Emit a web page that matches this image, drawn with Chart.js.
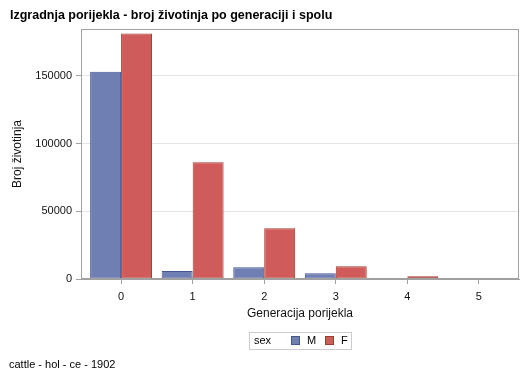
<!DOCTYPE html>
<html>
<head>
<meta charset="utf-8">
<script src="https://cdn.jsdelivr.net/npm/chart.js@4.4.0/dist/chart.umd.min.js"></script>
<style>
  html, body { margin: 0; padding: 0; background: #fff; }
  #wrap { width: 529px; height: 378px; position: relative; }
</style>
</head>
<body>
<div id="wrap"><canvas id="chart"></canvas></div>
<script>
// chart data
const titleText = 'Izgradnja porijekla - broj životinja po generaciji i spolu';
const footnoteText = 'cattle - hol - ce - 1902';
const legendTitle = 'sex';
const generations = [0, 1, 2, 3, 4, 5];
const seriesNames = ['M', 'F'];
const maleCounts = [153000, 5900, 8600, 4200, 800, 0];
const femaleCounts = [181300, 86200, 37400, 9400, 2000, 0];
const yTickValues = [0, 50000, 100000, 150000];

const FONT = '"Liberation Sans", Arial, sans-serif';
const AXIS_GRAY = '#a0a0a0';

// title, footnote, frame and the boxed legend at the bottom
const decorPlugin = {
    id: 'decor',
    afterDraw(chart) {
        const { ctx, chartArea } = chart;
        ctx.save();

        ctx.strokeStyle = AXIS_GRAY;
        ctx.lineWidth = 1;
        ctx.strokeRect(chartArea.left + 0.5, chartArea.top + 0.5,
            chartArea.right - chartArea.left - 1, chartArea.bottom - chartArea.top - 1);

        ctx.fillStyle = '#000';
        ctx.textBaseline = 'alphabetic';
        ctx.textAlign = 'left';
        ctx.font = 'bold 12.5px ' + FONT;
        ctx.fillText(titleText, 10, 19);

        ctx.font = '11px ' + FONT;
        ctx.fillText(footnoteText, 9, 368);

        // legend
        ctx.strokeStyle = '#cccccc';
        ctx.strokeRect(249.5, 332.5, 102, 17);
        ctx.textBaseline = 'middle';
        ctx.font = '11px ' + FONT;
        ctx.fillStyle = '#000';
        ctx.fillText(legendTitle, 254, 341);

        let x = 291;
        chart.data.datasets.forEach(ds => {
            ctx.fillStyle = ds.backgroundColor;
            ctx.fillRect(x, 336, 9, 9);
            ctx.strokeStyle = ds.borderColor;
            ctx.strokeRect(x + 0.5, 336.5, 8, 8);
            ctx.fillStyle = '#000';
            ctx.fillText(ds.label, x + 16, 341);
            x += 34;
        });

        ctx.restore();
    }
};

const ctx = document.getElementById('chart');

new Chart(ctx.getContext('2d'), {
    type: 'bar',
    data: {
        datasets: [
            {
                label: seriesNames[0],
                data: generations.map((g, i) => ({ x: g, y: maleCounts[i] })),
                backgroundColor: '#6f7eb3',
                borderColor: '#445694',
                borderWidth: 1,
                borderSkipped: false
            },
            {
                label: seriesNames[1],
                data: generations.map((g, i) => ({ x: g, y: femaleCounts[i] })),
                backgroundColor: '#d05b5b',
                borderColor: '#a23a2e',
                borderWidth: 1,
                borderSkipped: false
            }
        ]
    },
    options: {
        responsive: true,
        maintainAspectRatio: false,
        animation: false,
        layout: { padding: { top: 29, right: 10, left: 0, bottom: 0 } },
        categoryPercentage: 0.865,
        barPercentage: 1.0,
        plugins: {
            legend: { display: false },
            tooltip: { enabled: false }
        },
        scales: {
            x: {
                type: 'linear',
                min: -0.56,
                max: 5.56,
                offset: false,
                afterFit: scale => { scale.height = 99; },
                afterBuildTicks: scale => {
                    scale.ticks = generations.map(v => ({ value: v }));
                },
                ticks: {
                    color: '#111',
                    font: { family: FONT, size: 11 },
                    padding: 6,
                    maxRotation: 0
                },
                grid: {
                    offset: false,
                    drawOnChartArea: false,
                    tickLength: 5,
                    tickColor: AXIS_GRAY
                },
                border: { color: AXIS_GRAY },
                title: {
                    display: true,
                    text: 'Generacija porijekla',
                    color: '#111',
                    font: { family: FONT, size: 12 },
                    padding: { bottom: 57 }
                }
            },
            y: {
                min: 0,
                max: 184600,
                afterFit: scale => { scale.width = 81; },
                afterBuildTicks: scale => {
                    scale.ticks = yTickValues.map(v => ({ value: v }));
                },
                ticks: {
                    color: '#111',
                    font: { family: FONT, size: 11 },
                    padding: 4,
                    callback: v => String(v)
                },
                grid: {
                    color: c => (c.tick && c.tick.value === 0) ? 'rgba(0,0,0,0)' : '#e4e4e4',
                    tickLength: 5,
                    tickColor: AXIS_GRAY
                },
                border: { color: AXIS_GRAY },
                title: {
                    display: true,
                    text: 'Broj životinja',
                    color: '#111',
                    font: { family: FONT, size: 12 },
                    padding: { top: 10 }
                }
            }
        }
    },
    plugins: [decorPlugin]
});
</script>
</body>
</html>
